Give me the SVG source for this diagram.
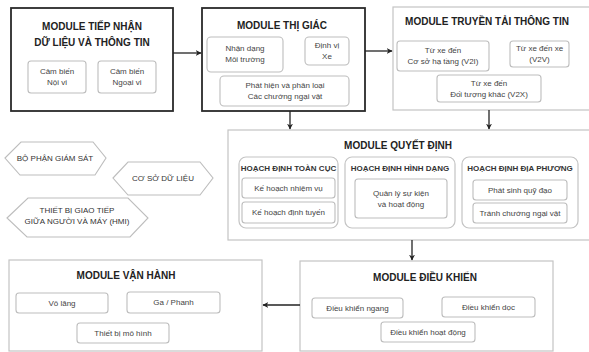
<svg xmlns="http://www.w3.org/2000/svg" width="589" height="352" viewBox="0 0 589 352">
<defs>
<marker id="arr" viewBox="0 0 10 10" refX="9" refY="5" markerWidth="6" markerHeight="6" orient="auto" markerUnits="userSpaceOnUse">
<path d="M0,0 L10,5 L0,10 L3,5 Z" fill="#222"/>
</marker>
<style>
text{font-family:"Liberation Sans",Arial,sans-serif;text-anchor:middle;}
.t{font-size:10px;font-weight:bold;fill:#222;}
.g{font-size:8px;font-weight:bold;fill:#333;}
.s{font-size:8px;fill:#444;}
.h{font-size:8px;fill:#333;}
.dark{fill:#fff;stroke:#2a2a2a;stroke-width:1.8;}
.light{fill:#fff;stroke:#c4c4c4;stroke-width:1.2;}
.sub{fill:#fff;stroke:#bdbdbd;stroke-width:1.1;}
.grp{fill:#fff;stroke:#c4c4c4;stroke-width:1.2;}
.hex{fill:#fff;stroke:#bdbdbd;stroke-width:1.1;}
.c{fill:none;stroke:#222;stroke-width:1.3;}
</style>
</defs>
<rect width="589" height="352" fill="#fff"/>

<g id="tiep-nhan">
<rect class="dark" x="11" y="8" width="162" height="103"/>
<text class="t" x="92" y="30">MODULE TIẾP NHẬN</text>
<text class="t" x="92" y="46">DỮ LIỆU VÀ THÔNG TIN</text>
<rect class="sub" x="28" y="61" width="58" height="32" rx="3"/>
<text class="s" x="57" y="74">Cảm biến</text>
<text class="s" x="57" y="85">Nội vi</text>
<rect class="sub" x="98" y="61" width="58" height="32" rx="3"/>
<text class="s" x="127" y="74">Cảm biến</text>
<text class="s" x="127" y="85">Ngoại vi</text>
</g>

<g id="thi-giac">
<rect class="dark" x="202" y="8" width="163" height="103"/>
<text class="t" x="282" y="29">MODULE THỊ GIÁC</text>
<rect class="sub" x="207" y="37" width="76" height="35" rx="4"/>
<text class="s" x="245" y="51">Nhận dạng</text>
<text class="s" x="245" y="62">Môi trường</text>
<rect class="sub" x="305" y="37" width="44" height="28" rx="4"/>
<text class="s" x="327" y="48">Định vị</text>
<text class="s" x="327" y="59">Xe</text>
<rect class="sub" x="220" y="76" width="129" height="30" rx="4"/>
<text class="s" x="285" y="88">Phát hiện và phân loại</text>
<text class="s" x="285" y="99">Các chướng ngại vật</text>
</g>

<g id="truyen-tai">
<rect class="light" x="393" y="7" width="200" height="103"/>
<text class="t" x="487" y="25">MODULE TRUYỀN TẢI THÔNG TIN</text>
<rect class="sub" x="397" y="41" width="92" height="30" rx="3"/>
<text class="s" x="443" y="53">Từ xe đến</text>
<text class="s" x="443" y="64">Cơ sở hạ tầng (V2I)</text>
<rect class="sub" x="510" y="41" width="59" height="26" rx="3"/>
<text class="s" x="539.5" y="51">Từ xe đến xe</text>
<text class="s" x="539.5" y="62">(V2V)</text>
<rect class="sub" x="437" y="75" width="104" height="27" rx="3"/>
<text class="s" x="489" y="86">Từ xe đến</text>
<text class="s" x="489" y="97">Đối tượng khác (V2X)</text>
</g>

<g id="giam-sat">
<polygon class="hex" points="5,158 21,142 93,142 106,158 95,175 20,175"/>
<text class="h" x="55" y="161">BỘ PHẬN GIÁM SÁT</text>
</g>
<g id="co-so-du-lieu">
<polygon class="hex" points="113,178 128,162 200,162 213,178 200,195 128,195"/>
<text class="h" x="163" y="181">CƠ SỞ DỮ LIỆU</text>
</g>
<g id="hmi">
<polygon class="hex" points="7,218 28,198 128,198 148,218 130,237 27,237"/>
<text class="h" x="77" y="213">THIẾT BỊ GIAO TIẾP</text>
<text class="h" x="77" y="224">GIỮA NGƯỜI VÀ MÁY (HMI)</text>
</g>

<g id="quyet-dinh">
<rect class="light" x="228" y="130" width="365" height="110"/>
<text class="t" x="398" y="149">MODULE QUYẾT ĐỊNH</text>
<rect class="grp" x="239" y="157" width="99" height="71" rx="7"/>
<text class="g" x="288.5" y="171">HOẠCH ĐỊNH TOÀN CỤC</text>
<rect class="sub" x="242" y="178" width="93" height="20" rx="3"/>
<text class="s" x="288.5" y="191">Kế hoạch nhiệm vụ</text>
<rect class="sub" x="242" y="202" width="93" height="21" rx="3"/>
<text class="s" x="288.5" y="215">Kế hoạch định tuyến</text>
<rect class="grp" x="345" y="157" width="110" height="71" rx="7"/>
<text class="g" x="400" y="171">HOẠCH ĐỊNH HÌNH DẠNG</text>
<rect class="sub" x="355" y="179" width="92" height="39" rx="3"/>
<text class="s" x="401" y="196">Quản lý sự kiện</text>
<text class="s" x="401" y="207">và hoạt động</text>
<rect class="grp" x="462" y="157" width="116" height="71" rx="7"/>
<text class="g" x="520" y="171">HOẠCH ĐỊNH ĐỊA PHƯƠNG</text>
<rect class="sub" x="473" y="180" width="94" height="20" rx="3"/>
<text class="s" x="520" y="193">Phát sinh quỹ đạo</text>
<rect class="sub" x="473" y="203" width="94" height="20" rx="3"/>
<text class="s" x="520" y="216">Tránh chướng ngại vật</text>
</g>

<g id="dieu-khien">
<rect class="light" x="300" y="261" width="253" height="90"/>
<text class="t" x="425" y="281">MODULE ĐIỀU KHIỂN</text>
<rect class="sub" x="312" y="298" width="91" height="20" rx="3"/>
<text class="s" x="357.5" y="311">Điều khiển ngang</text>
<rect class="sub" x="442" y="297" width="93" height="20" rx="3"/>
<text class="s" x="488.5" y="310">Điều khiển dọc</text>
<rect class="sub" x="381" y="322" width="94" height="20" rx="3"/>
<text class="s" x="428" y="335">Điều khiển hoạt động</text>
</g>

<g id="van-hanh">
<rect class="light" x="9" y="260" width="253" height="91"/>
<text class="t" x="126" y="279">MODULE VẬN HÀNH</text>
<rect class="sub" x="16" y="293" width="92" height="20" rx="3"/>
<text class="s" x="62" y="306">Vô lăng</text>
<rect class="sub" x="127" y="292" width="93" height="21" rx="3"/>
<text class="s" x="173.5" y="305">Ga / Phanh</text>
<rect class="sub" x="77" y="323" width="92" height="20" rx="3"/>
<text class="s" x="123" y="336">Thiết bị mô hình</text>
</g>

<g id="connectors">
<line class="c" x1="173" y1="53" x2="201" y2="53" marker-end="url(#arr)"/>
<line class="c" x1="365" y1="51" x2="392" y2="51" marker-end="url(#arr)"/>
<line class="c" x1="290" y1="111" x2="290" y2="129" marker-end="url(#arr)"/>
<line class="c" x1="489" y1="110" x2="489" y2="129" marker-end="url(#arr)"/>
<line class="c" x1="412" y1="240" x2="412" y2="260" marker-end="url(#arr)"/>
<line class="c" x1="300" y1="305" x2="263" y2="305" marker-end="url(#arr)"/>
</g>
</svg>
